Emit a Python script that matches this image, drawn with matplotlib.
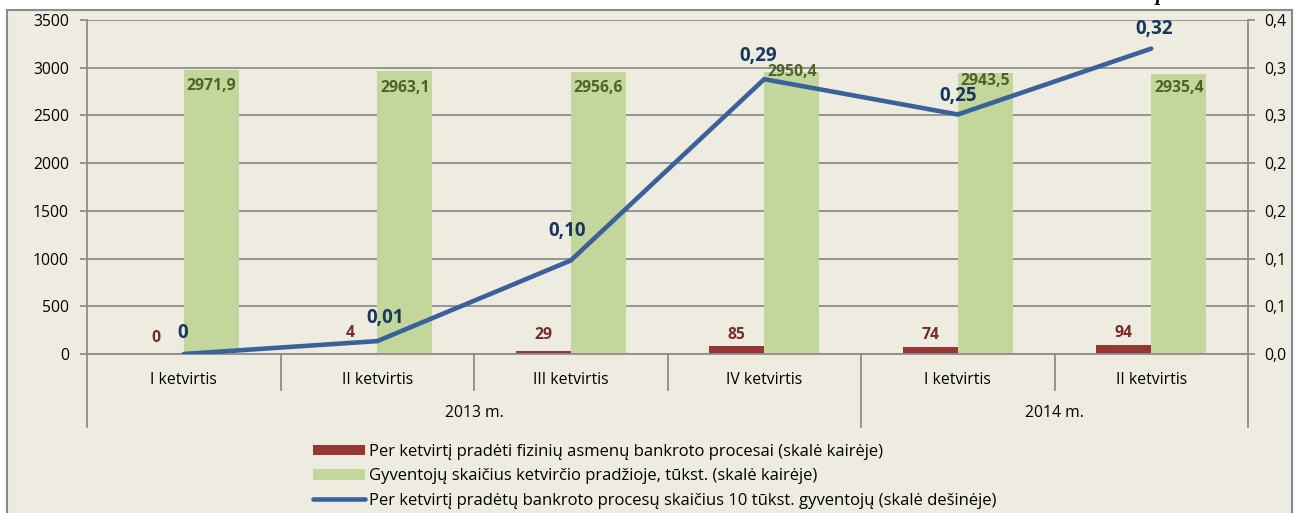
import matplotlib
matplotlib.use("Agg")
import matplotlib.pyplot as plt
from matplotlib.patches import Rectangle, Patch
from matplotlib.lines import Line2D

# ---- data ----
quarters = ["I ketvirtis", "II ketvirtis", "III ketvirtis", "IV ketvirtis", "I ketvirtis", "II ketvirtis"]
years = ["2013 m.", "2014 m."]
year_spans = [(0, 3), (4, 5)]
bankruptcies = [0, 4, 29, 85, 74, 94]
population = [2971.9, 2963.1, 2956.6, 2950.4, 2943.5, 2935.4]
per_10k = [0.0, 0.0135, 0.098, 0.288, 0.251, 0.320]
per_10k_labels = ["0", "0,01", "0,10", "0,29", "0,25", "0,32"]
left_ticks = [0, 500, 1000, 1500, 2000, 2500, 3000, 3500]
right_ticks = [0.0, 0.05, 0.10, 0.15, 0.20, 0.25, 0.30, 0.35]
right_tick_labels = ["0,0", "0,1", "0,1", "0,2", "0,2", "0,3", "0,3", "0,4"]
legend_labels = [
    "Per ketvirtį pradėti fizinių asmenų bankroto procesai (skalė kairėje)",
    "Gyventojų skaičius ketvirčio pradžioje, tūkst. (skalė kairėje)",
    "Per ketvirtį pradėtų bankroto procesų skaičius 10 tūkst. gyventojų (skalė dešinėje)",
]

# ---- style / label placement (pixels) ----
plt.rcParams['font.family'] = ['Open Sans', 'DejaVu Sans']
W, H = 1299, 513
BG = "#EEECE1"
GRID = "#8C8C8C"
RED = "#953735"
GREEN = "#C3D69B"
BLUE = "#3A619A"
FS = 11.3
red_dy = [16, 21, 16, 11, 12, 12]
green_dy = [-16, -17, -16, 0, -8, -14]
line_dx = [-1, 8, -4, -6, 0, 3]
line_dy = [21, 23, 29, 23, 18, 20]

fig = plt.figure(figsize=(W / 100, H / 100), dpi=100)
fig.patch.set_facecolor("white")

# chart frame
fig.patches.append(Rectangle((7 / W, -0.05), (1292 - 7) / W, 1.05 - 10 / H,
                             transform=fig.transFigure, facecolor=BG,
                             edgecolor="#8A8A8A", linewidth=1.5, zorder=0))

# cut-off caption text above the frame
fig.text(1155 / W, 1.0, "p", fontsize=15, fontstyle="italic", fontweight="bold",
         family="Liberation Serif", va="baseline", ha="left")

ax = fig.add_axes([87 / W, (H - 354) / H, (1248 - 87) / W, 334 / H])
ax.set_facecolor("none")
ax.set_zorder(2)
x = list(range(len(quarters)))
w = 55 / 193.5

ax.set_xlim(-0.5, len(quarters) - 0.5)
ax.set_ylim(0, 3500)
ax.set_yticks(left_ticks)
ax.set_yticklabels([str(v) for v in left_ticks])
ax.yaxis.grid(True, color=GRID, linewidth=1.3)
ax.set_axisbelow(True)
for s in ["top", "right", "bottom"]:
    ax.spines[s].set_visible(False)
ax.spines["left"].set_color(GRID)
ax.spines["left"].set_linewidth(1.3)
ax.tick_params(axis="y", length=5, width=1.3, color=GRID, pad=8, labelsize=FS)
ax.set_xticks([])

ax.bar([xi - w / 2 for xi in x], bankruptcies, width=w, color=RED, zorder=2)
ax.bar([xi + w / 2 for xi in x], population, width=w, color=GREEN, zorder=2)

for xi, v, dy in zip(x, bankruptcies, red_dy):
    ax.annotate(str(v), (xi - w / 2, v), xytext=(0, dy), textcoords="offset pixels",
                ha="center", va="center", fontsize=FS, fontweight="bold", color="#772C2A")

for xi, v, dy in zip(x, population, green_dy):
    ax.annotate(f"{v:.1f}".replace(".", ","), (xi + w / 2, v), xytext=(0, dy),
                textcoords="offset pixels", ha="center", va="center",
                fontsize=FS, fontweight="bold", color="#4F6228", zorder=3)

# category axis
tr = ax.get_xaxis_transform()
yb = (354 - 427) / 334
ys = (354 - 390) / 334
ax.plot([-0.5, len(x) - 0.5], [0, 0], transform=tr, color=GRID, lw=1.3, clip_on=False, zorder=3)
for b in [-0.5, 3.5, len(x) - 0.5]:
    ax.plot([b, b], [0, yb], transform=tr, color=GRID, lw=1.3, clip_on=False)
for b in [0.5, 1.5, 2.5, 4.5]:
    ax.plot([b, b], [0, ys], transform=tr, color=GRID, lw=1.3, clip_on=False)
for xi, q in zip(x, quarters):
    ax.text(xi, (354 - 380) / 334, q, transform=tr, ha="center", va="center", fontsize=FS)
for (a, b), yl in zip(year_spans, years):
    ax.text((a + b) / 2, (354 - 413) / 334, yl, transform=tr, ha="center", va="center", fontsize=FS)

# right axis line
ax2 = ax.twinx()
ax2.set_zorder(3)
ax2.set_ylim(0, 0.35)
ax2.set_yticks(right_ticks)
ax2.set_yticklabels(right_tick_labels)
for s in ["top", "left", "bottom"]:
    ax2.spines[s].set_visible(False)
ax2.spines["right"].set_color(GRID)
ax2.spines["right"].set_linewidth(1.3)
ax2.spines["right"].set_bounds(0, 0.35)
ax2.tick_params(axis="y", length=5, width=1.3, color=GRID, pad=7, labelsize=FS)
ax2.plot(x, per_10k, color=BLUE, lw=3.3, solid_capstyle="round", solid_joinstyle="round", zorder=4)
for xi, v, lab, dx, dy in zip(x, per_10k, per_10k_labels, line_dx, line_dy):
    ax2.annotate(lab, (xi, v), xytext=(dx, dy), textcoords="offset pixels",
                 ha="center", va="center", fontsize=13.5, fontweight="bold", color="#17375E")

LFS = 12
handles = [Patch(facecolor=RED, edgecolor="none"), Patch(facecolor=GREEN, edgecolor="none"),
           Line2D([0], [0], color=BLUE, lw=3.3, solid_capstyle="round")]
fig.legend(handles, legend_labels, loc="upper left", bbox_to_anchor=(313 / W, 1 - 444 / H),
           frameon=False, fontsize=LFS, handlelength=3.1, handleheight=0.6,
           handletextpad=0.28, labelspacing=0.5, borderpad=0, borderaxespad=0)

fig.savefig("out.png", dpi=100, facecolor="white")
